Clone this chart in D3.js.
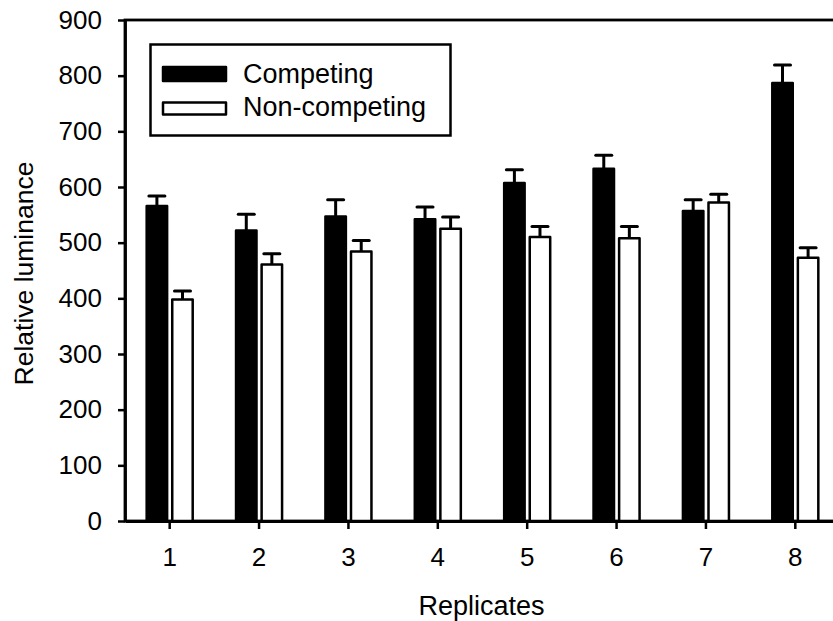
<!DOCTYPE html>
<html>
<head>
<meta charset="utf-8">
<script src="https://cdn.jsdelivr.net/npm/d3@7"></script>
<style>
	body { margin: 0; background: #fff; }
	text { font-family: "Liberation Sans", Arial, sans-serif; fill: #000; }
</style>
</head>
<body>
<div id="chart"></div>
<script>
// data
const replicates = ["1", "2", "3", "4", "5", "6", "7", "8"];
const competing = [566, 522, 547, 542, 607, 633, 557, 787];
const competingErr = [18, 29, 30, 22, 24, 24, 20, 32];
const nonCompeting = [398, 461, 484, 525, 510, 508, 572, 473];
const nonCompetingErr = [15, 19, 20, 21, 19, 21, 15, 18];
const yTicks = [0, 100, 200, 300, 400, 500, 600, 700, 800, 900];
const seriesNames = ["Competing", "Non-competing"];

const width = 833, height = 621;
// plot area runs past the right edge of the picture, like the original
const margin = { top: 20, left: 125 };
const plotW = 715, plotH = 501;

const svg = d3.select("#chart").append("svg")
	.attr("width", width)
	.attr("height", height);

const g = svg.append("g")
	.attr("transform", "translate(" + margin.left + "," + margin.top + ")");

let x0 = d3.scaleBand()
	.domain(replicates)
	.range([0, plotW])
	.paddingInner(0.485)
	.paddingOuter(0.2425);

let x1 = d3.scaleBand()
	.domain(seriesNames)
	.range([0, x0.bandwidth()])
	.paddingInner(0.2);

let y = d3.scaleLinear().domain([0, 900]).range([plotH, 0]);

let rows = replicates.map(function (r, i) {
	return {
		rep: r,
		bars: [
			{ key: seriesNames[0], value: competing[i], err: competingErr[i], fill: "#000" },
			{ key: seriesNames[1], value: nonCompeting[i], err: nonCompetingErr[i], fill: "#fff" }
		]
	};
});

// frame
g.append("rect")
	.attr("x", 0).attr("y", 0)
	.attr("width", plotW).attr("height", plotH)
	.attr("fill", "none")
	.attr("stroke", "#000")
	.attr("stroke-width", 2.8);

let groups = g.selectAll(".grp")
	.data(rows)
	.enter().append("g")
	.attr("class", "grp")
	.attr("transform", function (d) { return "translate(" + x0(d.rep) + ",0)"; });

let bar = groups.selectAll(".bar")
	.data(function (d) { return d.bars; })
	.enter().append("g")
	.attr("class", "bar");

// error bars (upper only)
bar.append("line")
	.attr("x1", function (d) { return x1(d.key) + x1.bandwidth() / 2; })
	.attr("x2", function (d) { return x1(d.key) + x1.bandwidth() / 2; })
	.attr("y1", function (d) { return y(d.value); })
	.attr("y2", function (d) { return y(d.value + d.err); })
	.attr("stroke", "#000")
	.attr("stroke-width", 3);

bar.append("line")
	.attr("x1", function (d) { return x1(d.key) + x1.bandwidth() / 2 - 8; })
	.attr("x2", function (d) { return x1(d.key) + x1.bandwidth() / 2 + 8; })
	.attr("y1", function (d) { return y(d.value + d.err); })
	.attr("y2", function (d) { return y(d.value + d.err); })
	.attr("stroke", "#000")
	.attr("stroke-width", 3)
	.attr("stroke-linecap", "round");

bar.append("rect")
	.attr("x", function (d) { return x1(d.key); })
	.attr("y", function (d) { return y(d.value); })
	.attr("width", x1.bandwidth())
	.attr("height", function (d) { return plotH - y(d.value); })
	.attr("fill", function (d) { return d.fill; })
	.attr("stroke", "#000")
	.attr("stroke-width", 2.5)
	.attr("stroke-linejoin", "round");

// axes
let yAxis = g.append("g")
	.call(d3.axisLeft(y).tickValues(yTicks).tickSize(7).tickSizeOuter(0).tickPadding(16));

let xAxis = g.append("g")
	.attr("transform", "translate(0," + plotH + ")")
	.call(d3.axisBottom(x0).tickSize(8).tickSizeOuter(0).tickPadding(19));

[yAxis, xAxis].forEach(function (a) {
	a.select(".domain").attr("stroke-width", 2.8);
	a.selectAll(".tick line").attr("stroke-width", 2.5);
	a.selectAll(".tick text")
		.style("font-size", "26px")
		.style("font-family", "'Liberation Sans', Arial, sans-serif");
});

// axis titles
svg.append("text")
	.attr("x", margin.left + plotW / 2 - 1)
	.attr("y", 615)
	.attr("text-anchor", "middle")
	.style("font-size", "27px")
	.text("Replicates");

svg.append("text")
	.attr("transform", "translate(33," + (margin.top + plotH / 2 + 3) + ") rotate(-90)")
	.attr("text-anchor", "middle")
	.style("font-size", "26.5px")
	.text("Relative luminance");

// legend
let legend = svg.append("g");

legend.append("rect")
	.attr("x", 150.5).attr("y", 44.5)
	.attr("width", 300).attr("height", 91)
	.attr("fill", "#fff")
	.attr("stroke", "#000")
	.attr("stroke-width", 2.5);

legend.append("rect")
	.attr("x", 163).attr("y", 67)
	.attr("width", 63).attr("height", 14)
	.attr("fill", "#000")
	.attr("stroke", "#000")
	.attr("stroke-width", 2.5)
	.attr("stroke-linejoin", "round");

legend.append("rect")
	.attr("x", 163).attr("y", 102.5)
	.attr("width", 63).attr("height", 12)
	.attr("fill", "#fff")
	.attr("stroke", "#000")
	.attr("stroke-width", 2.5)
	.attr("stroke-linejoin", "round");

legend.selectAll(".lab")
	.data(seriesNames)
	.enter().append("text")
	.attr("class", "lab")
	.attr("x", 243)
	.attr("y", function (d, i) { return 83 + i * 33; })
	.style("font-size", "27px")
	.text(function (d) { return d; });
</script>
</body>
</html>
